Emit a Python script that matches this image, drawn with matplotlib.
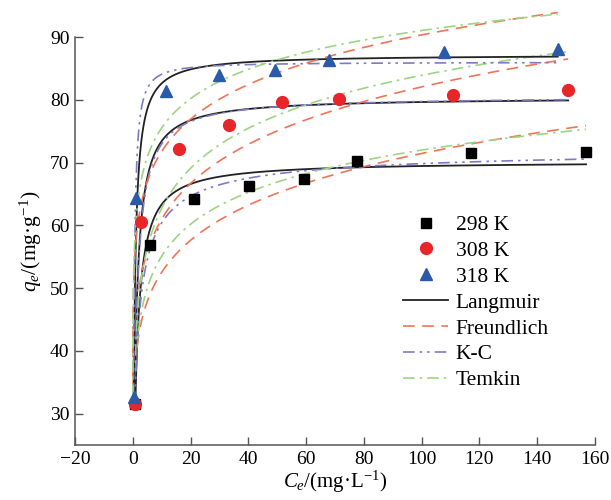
import numpy as np
import matplotlib.pyplot as plt
from matplotlib.lines import Line2D

plt.rcParams['font.family'] = ['Liberation Serif', 'DejaVu Serif']
plt.rcParams['mathtext.fontset'] = 'custom'
plt.rcParams['mathtext.rm'] = 'Liberation Serif'
plt.rcParams['mathtext.it'] = 'Liberation Serif:italic'

# measured equilibrium data (Ce in mg/L, qe in mg/g)
temps = ['298 K', '308 K', '318 K']
ce_298 = [0.8, 5.9, 21.2, 40.1, 59.2, 77.7, 117.1, 156.9]
qe_298 = [31.6, 56.9, 64.2, 66.3, 67.4, 70.3, 71.5, 71.7]
ce_308 = [0.6, 2.9, 16.0, 33.3, 51.8, 71.5, 111.0, 150.7]
qe_308 = [31.5, 60.5, 72.1, 76.0, 79.7, 80.1, 80.7, 81.5]
ce_318 = [0.55, 1.2, 11.6, 29.9, 49.2, 67.8, 107.6, 147.1]
qe_318 = [32.7, 64.3, 81.4, 84.0, 84.7, 86.4, 87.6, 88.1]

# fitted isotherm parameters (298, 308, 318 K)
langmuir_qm = [70.2, 80.4, 87.2]
langmuir_kl = [0.92, 1.05, 1.8]
freundlich_kf = [38.6, 45.3, 57.0]
freundlich_inv_n = [0.1337, 0.129, 0.10]
kc_qm = [72.5, 80.6, 86.0]
kc_b = [0.95, 1.0, 3.0]
kc_n = [0.72, 0.98, 1.16]
temkin_b = [7.34, 9.2, 6.74]
temkin_a = [181.6, 91.3, 7340.0]

ce_all = [ce_298, ce_308, ce_318]
qe_all = [qe_298, qe_308, qe_318]

fig = plt.figure(figsize=(6.11, 5.0), dpi=100)
ax = fig.add_axes([75 / 611, 1 - 445 / 500, (595 - 75) / 611, (445 - 37) / 500])

models = {
    'Langmuir': (lambda c, i: langmuir_qm[i] * langmuir_kl[i] * c / (1 + langmuir_kl[i] * c),
                 dict(color='#222222', ls='-', lw=1.3)),
    'Freundlich': (lambda c, i: freundlich_kf[i] * c ** freundlich_inv_n[i],
                   dict(color='#ef7556', ls=(0, (7, 4.5)), lw=1.2)),
    'K-C': (lambda c, i: kc_qm[i] * kc_b[i] * c ** kc_n[i] / (1 + kc_b[i] * c ** kc_n[i]),
            dict(color='#7c7cc4', ls=(0, (7, 3, 1.5, 3, 1.5, 3)), lw=1.2)),
    'Temkin': (lambda c, i: temkin_b[i] * np.log(temkin_a[i] * c),
               dict(color='#9fd485', ls=(0, (7, 3, 1.5, 3)), lw=1.2)),
}

for i in range(3):
    c = np.geomspace(0.01, max(ce_all[i]), 600)
    for name, (func, style) in models.items():
        q = func(c, i)
        keep = q >= min(qe_all[i])
        ax.plot(c[keep], q[keep], clip_on=False, zorder=2, **style)

ax.plot(ce_298, qe_298, 's', color='black', ms=7.5, ls='none', zorder=3, clip_on=False)
ax.plot(ce_308, qe_308, 'o', color='#e8262a', ms=8.5, ls='none', zorder=3, clip_on=False)
ax.plot(ce_318, qe_318, '^', color='#2a5aa8', ms=8.5, ls='none', zorder=3, clip_on=False)

ax.set_xlim(-20, 160)
ax.set_ylim(25, 90)
ax.set_xticks(np.arange(-20, 161, 20))
ax.set_yticks(np.arange(30, 91, 10))
for s in ['top', 'right']:
    ax.spines[s].set_visible(False)
for s in ['left', 'bottom']:
    ax.spines[s].set_color('#555555')
    ax.spines[s].set_linewidth(1.1)
ax.tick_params(direction='in', length=6, width=1.0, color='#555555',
               labelsize=14, pad=4)

ax.set_xlabel(r'$C_e$/(mg·L$^{-1}$)', fontsize=15, labelpad=1)
ax.set_ylabel(r'$q_e$/(mg·g$^{-1}$)', fontsize=15.5, labelpad=4)

handles = [
    Line2D([], [], marker='s', color='black', ls='none', ms=7.5),
    Line2D([], [], marker='o', color='#e8262a', ls='none', ms=8.5),
    Line2D([], [], marker='^', color='#2a5aa8', ls='none', ms=8.5),
]
labels = list(temps)
for name, (func, style) in models.items():
    handles.append(Line2D([], [], **style))
    labels.append(name)

fig.legend(handles, labels, loc='upper left', bbox_to_anchor=(403 / 611, 1 - 215 / 500),
           frameon=False, fontsize=15.5, handlelength=2.1, handletextpad=0.35,
           labelspacing=0.27, borderpad=0, borderaxespad=0)

fig.savefig('out.png', dpi=100)
